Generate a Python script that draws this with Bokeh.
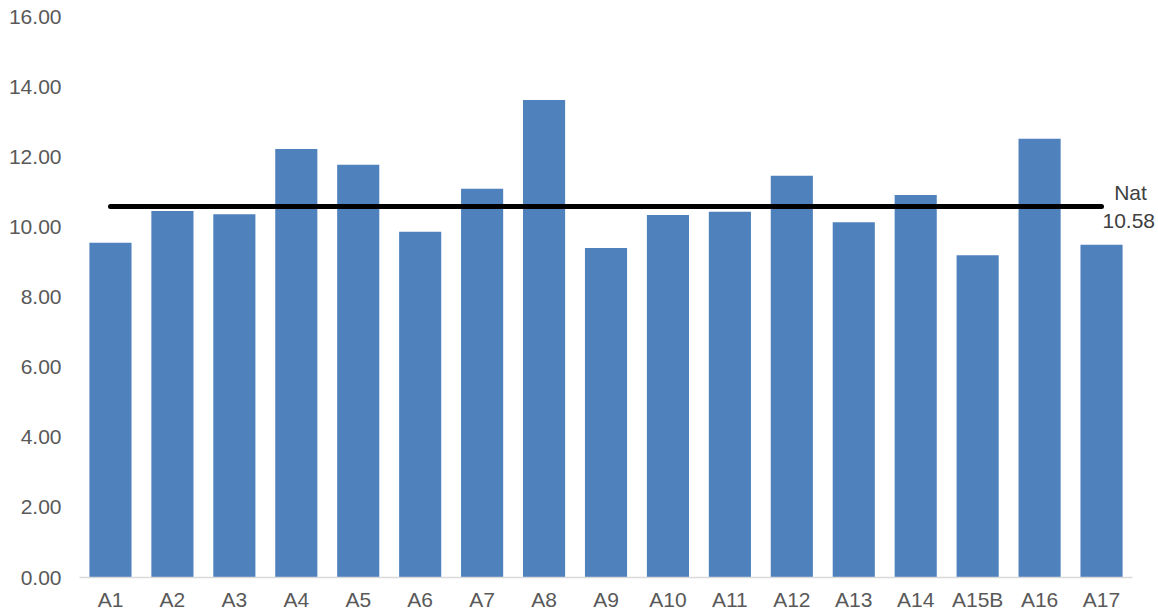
from bokeh.plotting import figure
from bokeh.models import (ColumnDataSource, Range1d, FactorRange, NumeralTickFormatter,
                          FixedTicker, LinearAxis)
from bokeh.embed import file_html
from bokeh.resources import INLINE

categories = ["A1", "A2", "A3", "A4", "A5", "A6", "A7", "A8", "A9", "A10",
              "A11", "A12", "A13", "A14", "A15B", "A16", "A17"]
values = [9.55, 10.45, 10.36, 12.22, 11.77, 9.86, 11.09, 13.62, 9.40, 10.34,
          10.43, 11.46, 10.13, 10.91, 9.19, 12.51, 9.49]
nat_value = 10.58
nat_name = "Nat"
y_ticks = [0, 2, 4, 6, 8, 10, 12, 14, 16]

FONT = "Liberation Sans"
GREY = "#595959"

p = figure(x_range=FactorRange(*categories), y_range=Range1d(0, 16),
           width=1158, height=613, output_backend="svg", toolbar_location=None,
           min_border_top=16, min_border_right=0, min_border_left=79, min_border_bottom=0)

src = ColumnDataSource(dict(cat=categories, val=values))
p.vbar(x="cat", top="val", width=0.68, source=src, fill_color="#4F81BD", line_color=None)

line_src = ColumnDataSource(dict(cat=categories, val=[nat_value] * len(categories)))
p.line(x="cat", y="val", source=line_src, line_color="black", line_width=5, line_cap="round")

p.xgrid.visible = False
p.ygrid.visible = False
p.outline_line_color = None

p.yaxis.ticker = FixedTicker(ticks=y_ticks)
p.yaxis.formatter = NumeralTickFormatter(format="0.00")
p.yaxis.axis_line_color = None
p.yaxis.major_tick_line_color = None
p.yaxis.minor_tick_line_color = None
p.yaxis.major_tick_out = 0
p.yaxis.major_label_standoff = 18
p.yaxis.major_label_text_font = FONT
p.yaxis.major_label_text_font_size = "21px"
p.yaxis.major_label_text_color = GREY

p.xaxis.axis_line_color = "#D9D9D9"
p.xaxis.axis_line_width = 1.5
p.xaxis.major_tick_line_color = None
p.xaxis.minor_tick_line_color = None
p.xaxis.major_tick_out = 0
p.xaxis.major_label_standoff = 10
p.xaxis.major_label_text_font = FONT
p.xaxis.major_label_text_font_size = "21px"
p.xaxis.major_label_text_color = GREY

# "Nat / 10.58" label, placed at the right of the average line
nat_axis = LinearAxis(ticker=FixedTicker(ticks=[nat_value]),
                      major_label_overrides={nat_value: "\u00a0\u00a0" + nat_name + "\n" + f"{nat_value:.2f}"},
                      axis_line_color=None, major_tick_line_color=None, minor_tick_line_color=None,
                      major_tick_out=0, major_tick_in=0, major_label_standoff=-30,
                      major_label_text_font=FONT, major_label_text_font_size="21px",
                      major_label_text_color="#404040")
p.add_layout(nat_axis, "right")

open("out.html", "w").write(file_html(p, INLINE))
